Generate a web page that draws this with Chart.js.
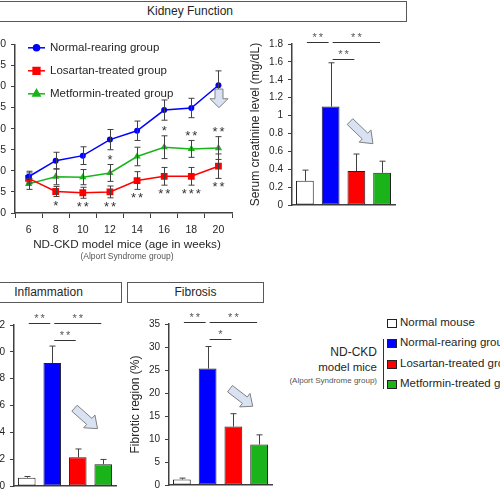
<!DOCTYPE html>
<html>
<head>
<meta charset="utf-8">
<script src="https://cdn.jsdelivr.net/npm/chart.js@4.4.1/dist/chart.umd.min.js"></script>
<style>
  body { margin: 0; width: 500px; height: 500px; overflow: hidden; position: relative; background: #fff;
         font-family: "Liberation Sans", Arial, sans-serif; color: #262626; }
  canvas { position: absolute; }
  .box { position: absolute; border: 1px solid #595959; box-sizing: border-box; text-align: center;
         font-size: 12px; line-height: 19px; white-space: nowrap; }
  .txt { position: absolute; white-space: nowrap; color: #262626; }
  .sq { position: absolute; width: 10px; height: 9px; border: 1px solid #222; box-sizing: border-box; }
</style>
</head>
<body>
<div class="box" style="left:-27px; top:1px; width:434px; height:21px;">Kidney Function</div>
<div class="box" style="left:-25px; top:282px; width:147px; height:21px;">Inflammation</div>
<div class="box" style="left:127px; top:282px; width:137px; height:21px;">Fibrosis</div>

<canvas id="kidneyLine" width="275" height="208" style="left:-35px; top:33px;"></canvas>
<canvas id="creatinineBar" width="161" height="196" style="left:240px; top:20px;"></canvas>
<canvas id="inflammationBar" width="158" height="192" style="left:-36px; top:305px;"></canvas>
<canvas id="fibrosisBar" width="158" height="192" style="left:120px; top:304px;"></canvas>

<div class="txt" style="left:127px; top:237px; font-size:11.7px; transform:translateX(-50%);">ND-CKD model mice (age in weeks)</div>
<div class="txt" style="left:127px; top:251px; font-size:8.5px; color:#555; transform:translateX(-50%);">(Alport Syndrome group)</div>

<!-- group legend -->
<div class="sq" style="left:387px; top:319px; background:#fff;"></div>
<div class="txt" style="left:400px; top:316px; font-size:11.5px;">Normal mouse</div>
<div class="sq" style="left:387px; top:339px; background:#0000ff;"></div>
<div class="txt" style="left:400px; top:336px; font-size:11.5px;">Normal-rearing group</div>
<div class="sq" style="left:387px; top:360px; background:#ff0000;"></div>
<div class="txt" style="left:400px; top:357px; font-size:11.5px;">Losartan-treated group</div>
<div class="sq" style="left:387px; top:380px; background:#1ab41a;"></div>
<div class="txt" style="left:400px; top:377px; font-size:11.5px;">Metformin-treated group</div>
<div style="position:absolute; left:383px; top:339px; width:1px; height:50px; background:#333;"></div>
<div class="txt" style="right:123px; top:345px; font-size:12px; text-align:right;">ND-CKD</div>
<div class="txt" style="right:123px; top:361px; font-size:11.5px; text-align:right;">model mice</div>
<div class="txt" style="right:123px; top:376px; font-size:8px; color:#555; text-align:right;">(Alport Syndrome group)</div>

<script>
// ---- kidney function time course ----
const weeks = ['6', '8', '10', '12', '14', '16', '18', '20'];
const normalRearing = [8.6, 12.4, 13.6, 17.4, 19.5, 24.4, 24.9, 30.3];
const normalRearingErr = [1.3, 2.0, 2.1, 2.4, 2.3, 2.4, 2.3, 3.4];
const losartan = [8.2, 5.1, 4.8, 5.0, 7.7, 8.7, 8.7, 11.1];
const losartanErr = [1.3, 1.2, 1.3, 1.4, 2.1, 2.1, 2.1, 2.9];
const metformin = [6.9, 8.6, 8.5, 9.5, 13.4, 15.6, 15.2, 15.4];
const metforminErr = [1.3, 1.9, 1.8, 2.0, 2.2, 2.7, 2.0, 2.7];
const starsMetformin = ['', '', '', '*', '', '*', '**', '**'];
const starsLosartan = ['', '*', '**', '**', '**', '**', '***', '**'];
const kidneyTicks = [0, 5, 10, 15, 20, 25, 30, 35, 40];

// ---- bar panels ----
const groups = ['Normal mouse', 'Normal-rearing group', 'Losartan-treated group', 'Metformin-treated group'];
const groupColors = ['#ffffff', '#0000ff', '#ff0000', '#1ab41a'];
const creatinine = [0.27, 1.10, 0.38, 0.36];
const creatinineErr = [0.12, 0.49, 0.19, 0.13];
const creatinineTicks = [0, 0.2, 0.4, 0.6, 0.8, 1, 1.2, 1.4, 1.6, 1.8];
const inflammation = [0.62, 9.17, 2.14, 1.62];
const inflammationErr = [0.09, 1.26, 0.62, 0.36];
const inflammationTicks = [0, 2, 4, 6, 8, 10, 12];
const fibrosis = [1.2, 25.3, 12.7, 8.8];
const fibrosisErr = [0.3, 4.8, 2.8, 2.1];
const fibrosisTicks = [0, 5, 10, 15, 20, 25, 30, 35];
// comparisons: [from group, to group, label, row]
const comparisons = [[0, 1, '**', 0], [1, 3, '**', 0], [1, 2, '**', 1]];
const fibrosisComparisons = [[0, 1, '**', 0], [1, 3, '**', 0], [1, 2, '*', 1]];

const axisColor = '#404040';
const sans = "'Liberation Sans', Arial, sans-serif";

function drawArrow(ctx, x1, y1, x2, y2, shaft, head, headLen) {
    const dx = x2 - x1, dy = y2 - y1, len = Math.hypot(dx, dy);
    const ux = dx / len, uy = dy / len, px = -uy, py = ux;
    const bx = x2 - ux * headLen, by = y2 - uy * headLen;
    ctx.save();
    ctx.beginPath();
    ctx.moveTo(x1 + px * shaft / 2, y1 + py * shaft / 2);
    ctx.lineTo(bx + px * shaft / 2, by + py * shaft / 2);
    ctx.lineTo(bx + px * head / 2, by + py * head / 2);
    ctx.lineTo(x2, y2);
    ctx.lineTo(bx - px * head / 2, by - py * head / 2);
    ctx.lineTo(bx - px * shaft / 2, by - py * shaft / 2);
    ctx.lineTo(x1 - px * shaft / 2, y1 - py * shaft / 2);
    ctx.closePath();
    ctx.fillStyle = '#d9e2f3';
    ctx.fill();
    ctx.strokeStyle = '#808080';
    ctx.lineWidth = 1;
    ctx.stroke();
    ctx.restore();
}

const extras = {
    id: 'extras',
    afterDatasetsDraw(chart, args, opts) {
        const ctx = chart.ctx, area = chart.chartArea;
        const x = chart.scales.x, y = chart.scales.y;
        ctx.save();
        // error bars
        (opts.errors || []).forEach((errs, di) => {
            const vals = chart.data.datasets[di].data;
            ctx.strokeStyle = axisColor;
            ctx.lineWidth = 1;
            vals.forEach((v, i) => {
                const cx = Math.round(x.getPixelForValue(i)) + 0.5;
                const top = y.getPixelForValue(v + errs[i]);
                const bot = opts.bothWays ? y.getPixelForValue(v - errs[i]) : y.getPixelForValue(v);
                ctx.beginPath();
                ctx.moveTo(cx, top); ctx.lineTo(cx, bot);
                ctx.moveTo(cx - 3, top); ctx.lineTo(cx + 3, top);
                if (opts.bothWays) { ctx.moveTo(cx - 3, bot); ctx.lineTo(cx + 3, bot); }
                ctx.stroke();
            });
        });
        // significance brackets
        ctx.fillStyle = '#555';
        ctx.textAlign = 'center';
        ctx.font = '11px ' + sans;
        ctx.letterSpacing = '2px';
        (opts.brackets || []).forEach(([a, b, label, row]) => {
            const xa = x.getPixelForValue(a) + 2, xb = x.getPixelForValue(b) - 2;
            const ly = Math.round(area.top + row * 17) - 1.5;
            ctx.strokeStyle = '#333';
            ctx.beginPath(); ctx.moveTo(xa, ly); ctx.lineTo(xb, ly); ctx.stroke();
            ctx.fillText(label, (xa + xb) / 2 + 1, ly - 2);
        });
        // stars on the time course
        if (opts.stars) {
            ctx.fillStyle = '#333';
            ctx.font = '13px ' + sans;
            opts.stars.upper.forEach((s, i) => {
                if (!s) return;
                const yy = y.getPixelForValue(metformin[i] + metforminErr[i]) - 7.5;
                ctx.fillText(s, x.getPixelForValue(i) + 1, yy + 7);
            });
            opts.stars.lower.forEach((s, i) => {
                if (!s) return;
                const yy = y.getPixelForValue(losartan[i] - losartanErr[i]) + 6;
                ctx.fillText(s, x.getPixelForValue(i) + 1, yy + 7);
            });
        }
        ctx.letterSpacing = '0px';
        // hint arrow
        if (opts.arrow) {
            const [f, t, shaft, head, hl] = opts.arrow;
            const w = area.right - area.left, h = area.bottom - area.top;
            drawArrow(ctx, area.left + f[0] * w, area.top + f[1] * h,
                area.left + t[0] * w, area.top + t[1] * h, shaft, head, hl);
        }
        // inline legend
        if (opts.legend) {
            ctx.font = '11.5px ' + sans;
            ctx.textAlign = 'left';
            ctx.textBaseline = 'middle';
            chart.data.datasets.forEach((ds, i) => {
                const ly = area.top + 3.5 + i * 23;
                const lx = area.left + 13;
                ctx.strokeStyle = ds.borderColor;
                ctx.lineWidth = 1.5;
                ctx.beginPath(); ctx.moveTo(lx, ly); ctx.lineTo(lx + 17, ly); ctx.stroke();
                Chart.helpers.drawPoint(ctx, {
                    pointStyle: ds.pointStyle, radius: ds.pointRadius, borderWidth: 1, rotation: 0
                }, lx + 8.5, ly);
                ctx.fillStyle = ds.borderColor;
                ctx.fill();
                ctx.fillStyle = '#262626';
                ctx.fillText(ds.label, area.left + 35, ly);
            });
        }
        ctx.restore();
    }
};

function fixedTicks(list) {
    return s => { s.ticks = list.map(v => ({ value: v })); };
}

function yAxis(ticks, width, title, size) {
    return {
        min: ticks[0], max: ticks[ticks.length - 1],
        afterBuildTicks: fixedTicks(ticks),
        afterFit: s => { s.width = width; },
        grid: { drawOnChartArea: false, tickLength: 4, color: axisColor, lineWidth: 1 },
        border: { color: axisColor, width: 1.5 },
        ticks: { font: { family: sans, size: size || 10 }, color: '#262626', padding: 5,
                 callback: v => String(+v.toFixed(1)) },
        title: title ? { display: true, text: title, color: '#262626',
            font: { family: sans, size: 12 }, padding: { top: 8, bottom: 0 } }
            : { display: false }
    };
}

new Chart(document.getElementById('kidneyLine'), {
    type: 'line',
    data: {
        labels: weeks,
        datasets: [
            { label: 'Normal-rearing group', data: normalRearing, borderColor: '#0000ff',
              backgroundColor: '#0000ff', pointStyle: 'circle', pointRadius: 3 },
            { label: 'Losartan-treated group', data: losartan, borderColor: '#ff0000',
              backgroundColor: '#ff0000', pointStyle: 'rect', pointRadius: 4.8 },
            { label: 'Metformin-treated group', data: metformin, borderColor: '#1ab41a',
              backgroundColor: '#1ab41a', pointStyle: 'triangle', pointRadius: 4.2 }
        ].map(d => Object.assign(d, { borderWidth: 1.5, pointBorderWidth: 0, tension: 0 }))
    },
    options: {
        responsive: false,
        animation: false,
        events: [],
        layout: { padding: { top: 10, right: 8, bottom: 2, left: 0 } },
        plugins: {
            legend: { display: false },
            tooltip: { enabled: false },
            extras: {
                errors: [normalRearingErr, losartanErr, metforminErr],
                bothWays: true,
                stars: { upper: starsMetformin, lower: starsLosartan },
                arrow: [[0.94, 0.265], [0.94, 0.376], 8, 18, 9],
                legend: true
            }
        },
        scales: {
            x: {
                offset: true,
                afterFit: s => { s.height = 26; },
                grid: { offset: true, drawOnChartArea: false, tickLength: 5, color: axisColor },
                border: { color: axisColor, width: 1.5 },
                ticks: { font: { family: sans, size: 10.5 }, color: '#262626', padding: 6 }
            },
            y: yAxis(kidneyTicks, 50, null, 10.5)
        }
    },
    plugins: [extras]
});

function barPanel(id, values, errors, ticks, yWidth, title, brackets, arrow, padTop) {
    new Chart(document.getElementById(id), {
        type: 'bar',
        data: {
            labels: groups,
            datasets: [{
                data: values,
                backgroundColor: groupColors,
                borderColor: '#222',
                borderWidth: 1,
                borderSkipped: false,
                barPercentage: 0.69,
                categoryPercentage: 1
            }]
        },
        options: {
            responsive: false,
            animation: false,
            events: [],
            layout: { padding: { top: padTop, right: 6, bottom: 4, left: 0 } },
            plugins: {
                legend: { display: false },
                tooltip: { enabled: false },
                extras: { errors: [errors], bothWays: false, brackets: brackets, arrow: arrow }
            },
            scales: {
                x: {
                    afterFit: s => { s.height = 0; },
                    grid: { display: false, drawTicks: false },
                    border: { color: axisColor, width: 1.5 },
                    ticks: { display: false }
                },
                y: yAxis(ticks, yWidth, title)
            }
        },
        plugins: [extras]
    });
}

barPanel('creatinineBar', creatinine, creatinineErr, creatinineTicks, 52,
    'Serum creatinine level (mg/dL)', comparisons, [[0.563, 0.482], [0.786, 0.619], 8, 17, 11], 24);
barPanel('inflammationBar', inflammation, inflammationErr, inflammationTicks, 50,
    null, comparisons, [[0.593, 0.517], [0.819, 0.644], 8, 17, 11], 20);
barPanel('fibrosisBar', fibrosis, fibrosisErr, fibrosisTicks, 49,
    'Fibrotic region (%)', fibrosisComparisons, [[0.592, 0.402], [0.813, 0.511], 8, 17, 10], 20);
</script>
</body>
</html>
